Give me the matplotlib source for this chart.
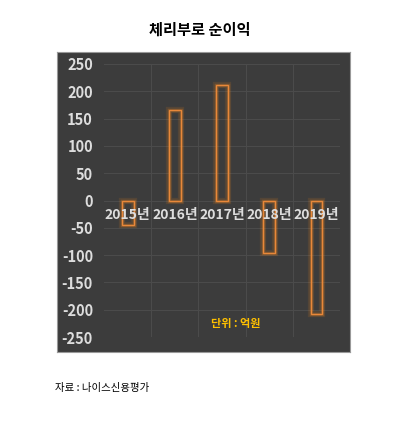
import matplotlib
matplotlib.use("Agg")
import matplotlib.pyplot as plt

plt.rcParams["font.family"] = ["Noto Sans CJK KR", "DejaVu Sans"]

years = ["2015년", "2016년", "2017년", "2018년", "2019년"]
profit = [-45, 165, 212, -97, -207]
yticks = [250, 200, 150, 100, 50, 0, -50, -100, -150, -200, -250]

fig = plt.figure(figsize=(4.0, 4.21), dpi=100)
fig.patch.set_facecolor("white")

# dark panel behind the chart
panel = fig.add_axes([57 / 400, 1 - 352 / 421, 293 / 400, 300 / 421], zorder=0)
panel.set_facecolor("#3c3c3c")
panel.set_xticks([])
panel.set_yticks([])
for s in panel.spines.values():
    s.set_color("#999999")
    s.set_linewidth(0.8)

ax = fig.add_axes([104 / 400, 1 - 337 / 421, 236 / 400, 273 / 421], zorder=1)
ax.patch.set_alpha(0)
x = list(range(len(years)))
for glow, lw in [(0.12, 4.5), (0.25, 2.5)]:
    ax.bar(x, profit, width=0.25, facecolor="none", edgecolor="#ff8c1a", linewidth=lw, alpha=glow)
ax.bar(x, profit, width=0.25, facecolor="none", edgecolor="#e8883a", linewidth=1.0)

ax.set_xlim(-0.5, len(years) - 0.5)
ax.set_ylim(-250, 250)
ax.set_yticks(yticks)
ax.set_yticklabels([str(v) for v in yticks], color="#dddddd", fontsize=10.5, fontweight="bold")
ax.set_xticks([i + 0.5 for i in x[:-1]])
ax.set_xticklabels([])
ax.tick_params(length=0, pad=8)
ax.grid(True, color="#4c4c4c", linewidth=0.7)
ax.set_axisbelow(True)
for s in ax.spines.values():
    s.set_visible(False)
for i, label in enumerate(years):
    ax.text(i, -27, label, ha="center", va="center", color="#dddddd", fontsize=10, fontweight="bold")
ax.text(2.3, -225, "단위 : 억원", ha="center", va="center", color="#ffc000", fontsize=8, fontweight="bold")

fig.text(0.5, 1 - 30 / 421, "체리부로 순이익", ha="center", va="center", fontsize=11, fontweight="bold")
fig.text(55 / 400, 1 - 388 / 421, "자료 : 나이스신용평가", ha="left", va="center", fontsize=7.5)

fig.savefig("out.png", dpi=100)
